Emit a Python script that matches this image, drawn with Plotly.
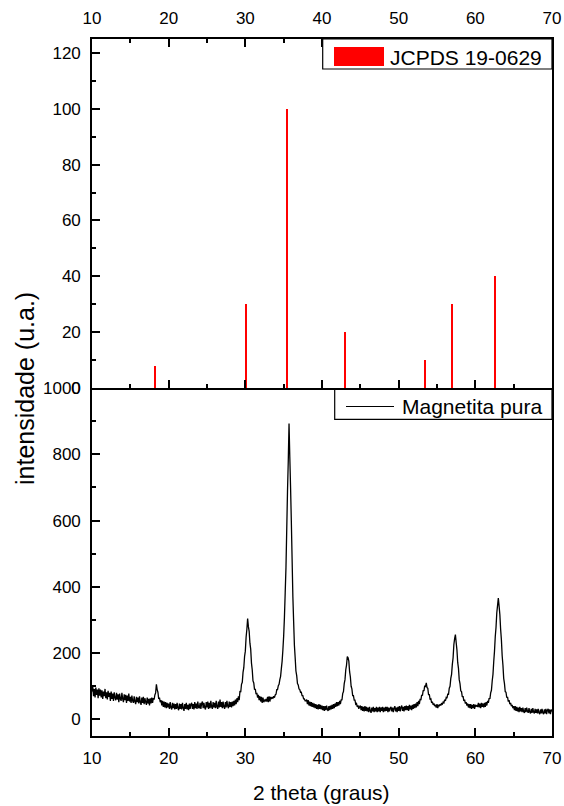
import plotly.graph_objects as go

# ---- reference pattern JCPDS 19-0629 (top panel) ----
ref_theta = [18.27, 30.09, 35.42, 43.05, 53.39, 56.94, 62.51]
ref_intensity = [8, 30, 100, 20, 10, 30, 40]

# ---- measured pattern "Magnetita pura" (bottom panel), sampled every 0.1 deg from 10 to 70 ----
theta_start = 10.0
theta_step = 0.1
intensity = [
    84, 98, 70, 92, 66, 96, 74, 90, 64, 94,
    72, 90, 66, 88, 62, 84, 70, 92, 64, 82,
    60, 86, 68, 80, 56, 84, 62, 78, 56, 82,
    66, 58, 80, 60, 76, 52, 78, 62, 56, 80,
    62, 52, 76, 58, 74, 50, 72, 56, 78, 54,
    68, 50, 72, 56, 50, 70, 54, 46, 68, 52,
    66, 48, 70, 52, 44, 66, 50, 68, 46, 64,
    52, 44, 66, 48, 62, 42, 64, 48, 66, 50,
    64, 60, 74, 80, 106, 90, 82, 62, 66, 52,
    58, 42, 56, 38, 54, 36, 52, 34, 50, 36,
    48, 32, 52, 36, 30, 50, 34, 48, 30, 46,
    32, 50, 34, 28, 48, 32, 46, 30, 50, 34,
    26, 46, 32, 50, 30, 44, 28, 48, 32, 46,
    50, 32, 46, 30, 52, 34, 48, 32, 54, 36,
    34, 50, 32, 48, 54, 34, 50, 36, 30, 52,
    36, 54, 32, 50, 34, 56, 38, 32, 52, 36,
    50, 34, 56, 38, 32, 54, 36, 60, 38, 52,
    34, 54, 38, 32, 52, 36, 56, 40, 34, 54,
    38, 52, 36, 54, 40, 56, 42, 60, 46, 64,
    52, 70, 58, 86, 82, 106, 112, 142, 156, 190,
    206, 248, 272, 304, 280, 266, 230, 212, 170, 150,
    116, 110, 90, 92, 76, 80, 66, 74, 58, 70,
    54, 68, 50, 66, 52, 58, 56, 62, 54, 68,
    52, 70, 54, 68, 62, 66, 64, 70, 66, 74,
    76, 90, 90, 102, 106, 120, 130, 154, 176, 210,
    252, 308, 382, 458, 572, 688, 780, 893, 792, 700,
    598, 484, 370, 296, 224, 186, 146, 132, 108, 104,
    92, 90, 82, 82, 72, 72, 62, 62, 56, 56,
    60, 46, 58, 42, 54, 40, 52, 38, 50, 36,
    48, 34, 46, 32, 44, 30, 46, 32, 44, 30,
    42, 28, 40, 26, 40, 28, 42, 30, 26, 40,
    28, 42, 30, 44, 32, 46, 34, 48, 38, 52,
    40, 52, 42, 56, 46, 60, 58, 78, 84, 108,
    120, 150, 164, 190, 186, 176, 144, 128, 100, 92,
    72, 72, 58, 58, 46, 48, 38, 42, 32, 38,
    42, 28, 40, 26, 38, 24, 40, 26, 38, 24,
    36, 22, 38, 26, 20, 36, 24, 38, 22, 34,
    24, 38, 22, 36, 24, 38, 22, 36, 26, 38,
    22, 36, 24, 38, 26, 38, 22, 36, 24, 34,
    38, 24, 36, 22, 34, 40, 24, 36, 22, 38,
    26, 40, 24, 36, 42, 26, 38, 24, 40, 28,
    42, 28, 40, 26, 44, 30, 42, 28, 44, 32,
    46, 34, 48, 36, 52, 40, 56, 46, 62, 58,
    74, 72, 88, 86, 102, 100, 110, 96, 94, 74,
    76, 60, 62, 50, 54, 44, 48, 40, 44, 36,
    46, 34, 44, 40, 46, 42, 48, 46, 52, 50,
    60, 56, 66, 64, 76, 76, 94, 100, 124, 136,
    166, 186, 226, 244, 256, 232, 210, 172, 154, 120,
    108, 86, 84, 68, 70, 56, 60, 48, 52, 42,
    48, 36, 46, 34, 46, 32, 44, 34, 46, 32,
    44, 40, 42, 38, 50, 36, 48, 34, 50, 38,
    48, 36, 50, 38, 52, 42, 56, 50, 64, 62,
    80, 88, 116, 136, 174, 206, 250, 278, 322, 344,
    366, 342, 316, 272, 240, 192, 164, 124, 108, 84,
    82, 66, 68, 54, 58, 46, 50, 40, 44, 34,
    40, 28, 40, 26, 38, 24, 36, 22, 38, 24,
    34, 22, 36, 24, 20, 34, 22, 36, 24, 20,
    34, 22, 18, 32, 20, 34, 22, 18, 32, 20,
    30, 18, 32, 20, 16, 30, 18, 32, 20, 16,
    30, 18, 32, 16, 28, 32, 18, 30, 16, 30,
    24,
]
theta = [round(theta_start + i * theta_step, 2) for i in range(len(intensity))]

x_ticks = [10, 20, 30, 40, 50, 60, 70]
top_y_ticks = [0, 20, 40, 60, 80, 100, 120]
bottom_y_ticks = [0, 200, 400, 600, 800, 1000]

legend_top = "JCPDS 19-0629"
legend_bottom = "Magnetita pura"
x_title = "2 theta (graus)"
y_title = "intensidade (u.a.)"

# ---- layout geometry (pixels) ----
W, H = 564, 806
L, R, T, B = 92, 12, 39, 70
PW, PH = W - L - R, H - T - B
split_px = 388
split = (H - B - split_px) / PH


def px(xp):
    return (xp - L) / PW


def py(yp):
    return (H - B - yp) / PH


FONT = "Liberation Sans, Arial, sans-serif"
LW = 1.6

fig = go.Figure()

fig.add_trace(go.Bar(
    x=ref_theta, y=ref_intensity, width=0.27,
    marker=dict(color="#ff0000", line=dict(width=0)),
    xaxis="x2", yaxis="y2", showlegend=False, name=legend_top,
))

fig.add_trace(go.Scatter(
    x=theta, y=intensity, mode="lines",
    line=dict(color="black", width=1.3, simplify=False),
    xaxis="x", yaxis="y", showlegend=False, name=legend_bottom,
))

common_x = dict(
    range=[10, 70], tickvals=x_ticks, ticks="inside", ticklen=8, tickwidth=LW,
    tickcolor="black", showline=True, linecolor="black", linewidth=LW,
    showgrid=False, zeroline=False, automargin=False,
    minor=dict(dtick=5, tick0=10, ticks="inside", ticklen=4, tickwidth=LW, tickcolor="black"),
    tickfont=dict(family=FONT, size=17, color="black"),
)
common_y = dict(
    ticks="inside", ticklen=8, tickwidth=LW, tickcolor="black",
    showline=True, linecolor="black", linewidth=LW, mirror=True,
    showgrid=False, zeroline=False, automargin=False,
    tickfont=dict(family=FONT, size=17, color="black"),
    ticklabelstandoff=6,
)

fig.update_layout(
    width=W, height=H,
    margin=dict(l=L, r=R, t=T, b=B, autoexpand=False),
    paper_bgcolor="white", plot_bgcolor="white",
    font=dict(family=FONT, color="black"),
    bargap=0,
    xaxis=dict(common_x, anchor="y", domain=[0, 1], side="bottom", mirror=False,
               ticklabelstandoff=6),
    yaxis=dict(common_y, domain=[0, split], range=[-50, 1000], tickvals=bottom_y_ticks,
               minor=dict(dtick=100, tick0=0, ticks="inside", ticklen=4, tickwidth=LW, tickcolor="black")),
    xaxis2=dict(common_x, anchor="y2", domain=[0, 1], side="top", mirror="ticks",
                ticklabelstandoff=6),
    yaxis2=dict(common_y, domain=[split, 1], range=[0, 125], tickvals=top_y_ticks,
                minor=dict(dtick=10, tick0=0, ticks="inside", ticklen=4, tickwidth=LW, tickcolor="black")),
)

shapes = []
annotations = []

# legend box: JCPDS
shapes.append(dict(type="rect", xref="paper", yref="paper",
                   x0=px(322.7), x1=px(552), y0=py(69), y1=py(39),
                   line=dict(color="black", width=1.2), fillcolor="white", layer="above"))
shapes.append(dict(type="rect", xref="paper", yref="paper",
                   x0=px(334), x1=px(384), y0=py(66), y1=py(47),
                   line=dict(width=0), fillcolor="#ff0000", layer="above"))
annotations.append(dict(xref="paper", yref="paper", x=px(388), y=py(57),
                        xanchor="left", yanchor="middle", showarrow=False,
                        text=legend_top, font=dict(family=FONT, size=21, color="black")))

# legend box: Magnetita pura
shapes.append(dict(type="rect", xref="paper", yref="paper",
                   x0=px(334.7), x1=px(552), y0=py(419.3), y1=py(389.5),
                   line=dict(color="black", width=1.2), fillcolor="white", layer="above"))
shapes.append(dict(type="line", xref="paper", yref="paper",
                   x0=px(346), x1=px(394), y0=py(406.5), y1=py(406.5),
                   line=dict(color="black", width=1.2), layer="above"))
annotations.append(dict(xref="paper", yref="paper", x=px(400), y=py(406),
                        xanchor="left", yanchor="middle", showarrow=False,
                        text=legend_bottom, font=dict(family=FONT, size=21, color="black")))

# axis titles
annotations.append(dict(xref="paper", yref="paper", x=px(321), y=py(792),
                        xanchor="center", yanchor="middle", showarrow=False,
                        text=x_title, font=dict(family=FONT, size=21, color="black")))
annotations.append(dict(xref="paper", yref="paper", x=px(25), y=py(389),
                        xanchor="center", yanchor="middle", showarrow=False, textangle=-90,
                        text=y_title, font=dict(family=FONT, size=25, color="black")))

fig.update_layout(shapes=shapes, annotations=annotations)

fig.write_html(
    "out.html",
    config={"displayModeBar": False},
    post_script="document.body.style.margin='0';document.body.style.overflow='hidden';",
)
